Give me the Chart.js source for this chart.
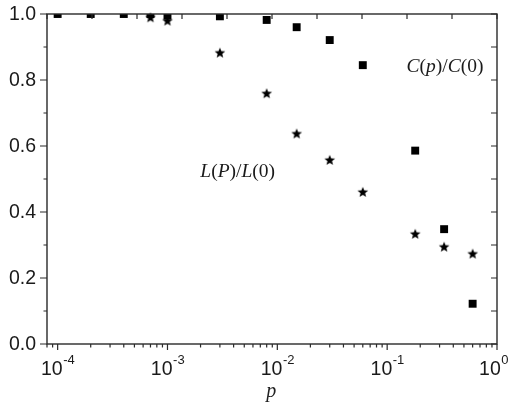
<!DOCTYPE html>
<html><head><meta charset="utf-8">
<script src="https://cdn.jsdelivr.net/npm/chart.js@4/dist/chart.umd.min.js"></script>
<style>html,body{margin:0;padding:0;background:#fff}#wrap{width:511px;height:411px}</style>
</head><body><div id="wrap"><canvas id="c" width="511" height="411"></canvas></div>
<script>
// ---- data ----
const cP      = [1e-4, 2e-4, 4e-4, 7e-4, 1e-3, 3e-3, 8e-3, 0.015, 0.03, 0.06, 0.18, 0.33, 0.6];
const cValues = [1.0, 1.0, 1.0, 1.0, 0.995, 0.993, 0.982, 0.96, 0.921, 0.845, 0.586, 0.348, 0.122];
const lP      = [7e-4, 1e-3, 3e-3, 8e-3, 0.015, 0.03, 0.06, 0.18, 0.33, 0.6];
const lValues = [0.99, 0.98, 0.883, 0.76, 0.638, 0.558, 0.461, 0.334, 0.295, 0.274];
const yTickLabels = ['0.0', '0.2', '0.4', '0.6', '0.8', '1.0'];
const yTickValues = [0, 0.2, 0.4, 0.6, 0.8, 1.0];
const xTickValues = [1e-4, 1e-3, 1e-2, 1e-1, 1];
const xTickExps   = ['-4', '-3', '-2', '-1', '0'];
const xTitle = 'p';
// curve labels: [text, italic]
const cLabel = [['C', 1], ['(', 0], ['p', 1], [')/', 0], ['C', 1], ['(0)', 0]];
const lLabel = [['L', 1], ['(', 0], ['P', 1], [')/', 0], ['L', 1], ['(0)', 0]];

// star marker
function makeStar(rOut, rIn) {
  const s = Math.ceil(rOut * 2 + 2);
  const cv = document.createElement('canvas');
  cv.width = s; cv.height = s;
  const g = cv.getContext('2d');
  g.translate(s / 2, s / 2 + 0.5);
  g.beginPath();
  for (let i = 0; i < 10; i++) {
    const r = i % 2 ? rIn : rOut;
    const a = -Math.PI / 2 + i * Math.PI / 5;
    const px = r * Math.cos(a), py = r * Math.sin(a);
    if (i) g.lineTo(px, py); else g.moveTo(px, py);
  }
  g.closePath();
  g.fillStyle = '#000';
  g.fill();
  return cv;
}
const starImg = makeStar(5.6, 2.4);

const AX = '#2a2a2a';
const SANS = '"Liberation Sans", Arial, sans-serif';
const SERIF = '"Liberation Serif", "Times New Roman", serif';

function drawRich(ctx, parts, x, y, size) {
  let cx = x;
  for (const [t, it] of parts) {
    ctx.font = (it ? 'italic ' : '') + size + 'px ' + SERIF;
    ctx.fillText(t, cx, y);
    cx += ctx.measureText(t).width;
  }
}

const framePlugin = {
  id: 'frame',
  afterDraw(chart) {
    const ctx = chart.ctx, a = chart.chartArea;
    const xs = chart.scales.x, ys = chart.scales.y;
    ctx.save();
    ctx.strokeStyle = AX;
    ctx.lineWidth = 1.4;
    ctx.strokeRect(a.left, a.top, a.right - a.left, a.bottom - a.top);
    ctx.lineWidth = 1.2;
    ctx.beginPath();
    // bottom log ticks (outward)
    for (let e = -5; e <= 0; e++) {
      for (let k = 1; k <= 9; k++) {
        const v = k * Math.pow(10, e);
        if (v < xs.min * 0.999 || v > xs.max * 1.001) continue;
        const px = xs.getPixelForValue(v);
        const len = k === 1 ? 6 : 3.5;
        ctx.moveTo(px, a.bottom); ctx.lineTo(px, a.bottom + len);
      }
    }
    // top ticks (inward, uniform)
    for (let i = 0; i <= 10; i++) {
      const px = a.left + (a.right - a.left) * i / 10;
      ctx.moveTo(px, a.top); ctx.lineTo(px, a.top + 5);
    }
    // left ticks (outward) and right ticks (inward)
    for (let i = 0; i <= 10; i++) {
      const py = ys.getPixelForValue(i / 10);
      const len = i % 2 === 0 ? 7 : 3.5;
      ctx.moveTo(a.left, py); ctx.lineTo(a.left - len, py);
      ctx.moveTo(a.right, py); ctx.lineTo(a.right - 6, py);
    }
    ctx.stroke();

    // y tick labels
    ctx.fillStyle = '#1a1a1a';
    ctx.font = '19.5px ' + SANS;
    ctx.textAlign = 'right';
    ctx.textBaseline = 'middle';
    yTickValues.forEach((v, i) => {
      ctx.fillText(yTickLabels[i], a.left - 11, ys.getPixelForValue(v) + 1);
    });
    // x tick labels 10^n
    ctx.textAlign = 'left';
    ctx.textBaseline = 'alphabetic';
    xTickValues.forEach((v, i) => {
      const px = xs.getPixelForValue(v);
      ctx.font = '19.5px ' + SANS;
      const w1 = ctx.measureText('10').width;
      ctx.font = '13px ' + SANS;
      const w2 = ctx.measureText(xTickExps[i]).width;
      let x0 = px - (w1 + w2) / 2;
      if (x0 + w1 + w2 + 1 > chart.width - 1) x0 = chart.width - 2 - (w1 + w2 + 1);
      ctx.font = '19.5px ' + SANS;
      ctx.fillText('10', x0, a.bottom + 31);
      ctx.font = '13px ' + SANS;
      ctx.fillText(xTickExps[i], x0 + w1 + 0.5, a.bottom + 20);
    });
    // x title
    ctx.fillStyle = '#222';
    ctx.textAlign = 'center';
    ctx.font = 'italic 20px ' + SERIF;
    ctx.fillText(xTitle, (xs.getPixelForValue(1e-2) + xs.getPixelForValue(1e-1)) / 2 - 61, a.bottom + 53);
    // curve labels
    ctx.textAlign = 'left';
    ctx.fillStyle = '#1a1a1a';
    drawRich(ctx, cLabel, xs.getPixelForValue(0.15), ys.getPixelForValue(0.824), 19.5);
    drawRich(ctx, lLabel, xs.getPixelForValue(0.00199), ys.getPixelForValue(0.506), 19.5);
    ctx.restore();
  }
};

new Chart(document.getElementById('c'), {
  type: 'scatter',
  data: {
    datasets: [
      {
        label: 'C(p)/C(0)',
        data: cP.map((p, i) => ({ x: p, y: cValues[i] })),
        pointStyle: 'rect', pointRadius: 5.6, pointHoverRadius: 5.6,
        backgroundColor: '#000', borderColor: '#000', borderWidth: 0,
        clip: 0, order: 1
      },
      {
        label: 'L(P)/L(0)',
        data: lP.map((p, i) => ({ x: p, y: lValues[i] })),
        pointStyle: starImg, pointRadius: 6,
        backgroundColor: '#000', borderColor: '#000',
        clip: 8, order: 2
      }
    ]
  },
  options: {
    responsive: false, animation: false, devicePixelRatio: 1,
    layout: { padding: { top: 14, right: 14, left: 0, bottom: 0 } },
    plugins: { legend: { display: false }, tooltip: { enabled: false } },
    scales: {
      x: {
        type: 'logarithmic', min: 8e-5, max: 1,
        ticks: { display: false }, grid: { display: false }, border: { display: false },
        afterFit: s => { s.height = 67; }
      },
      y: {
        type: 'linear', min: 0, max: 1,
        ticks: { display: false }, grid: { display: false }, border: { display: false },
        afterFit: s => { s.width = 47; }
      }
    }
  },
  plugins: [framePlugin]
});
</script>
</body></html>
